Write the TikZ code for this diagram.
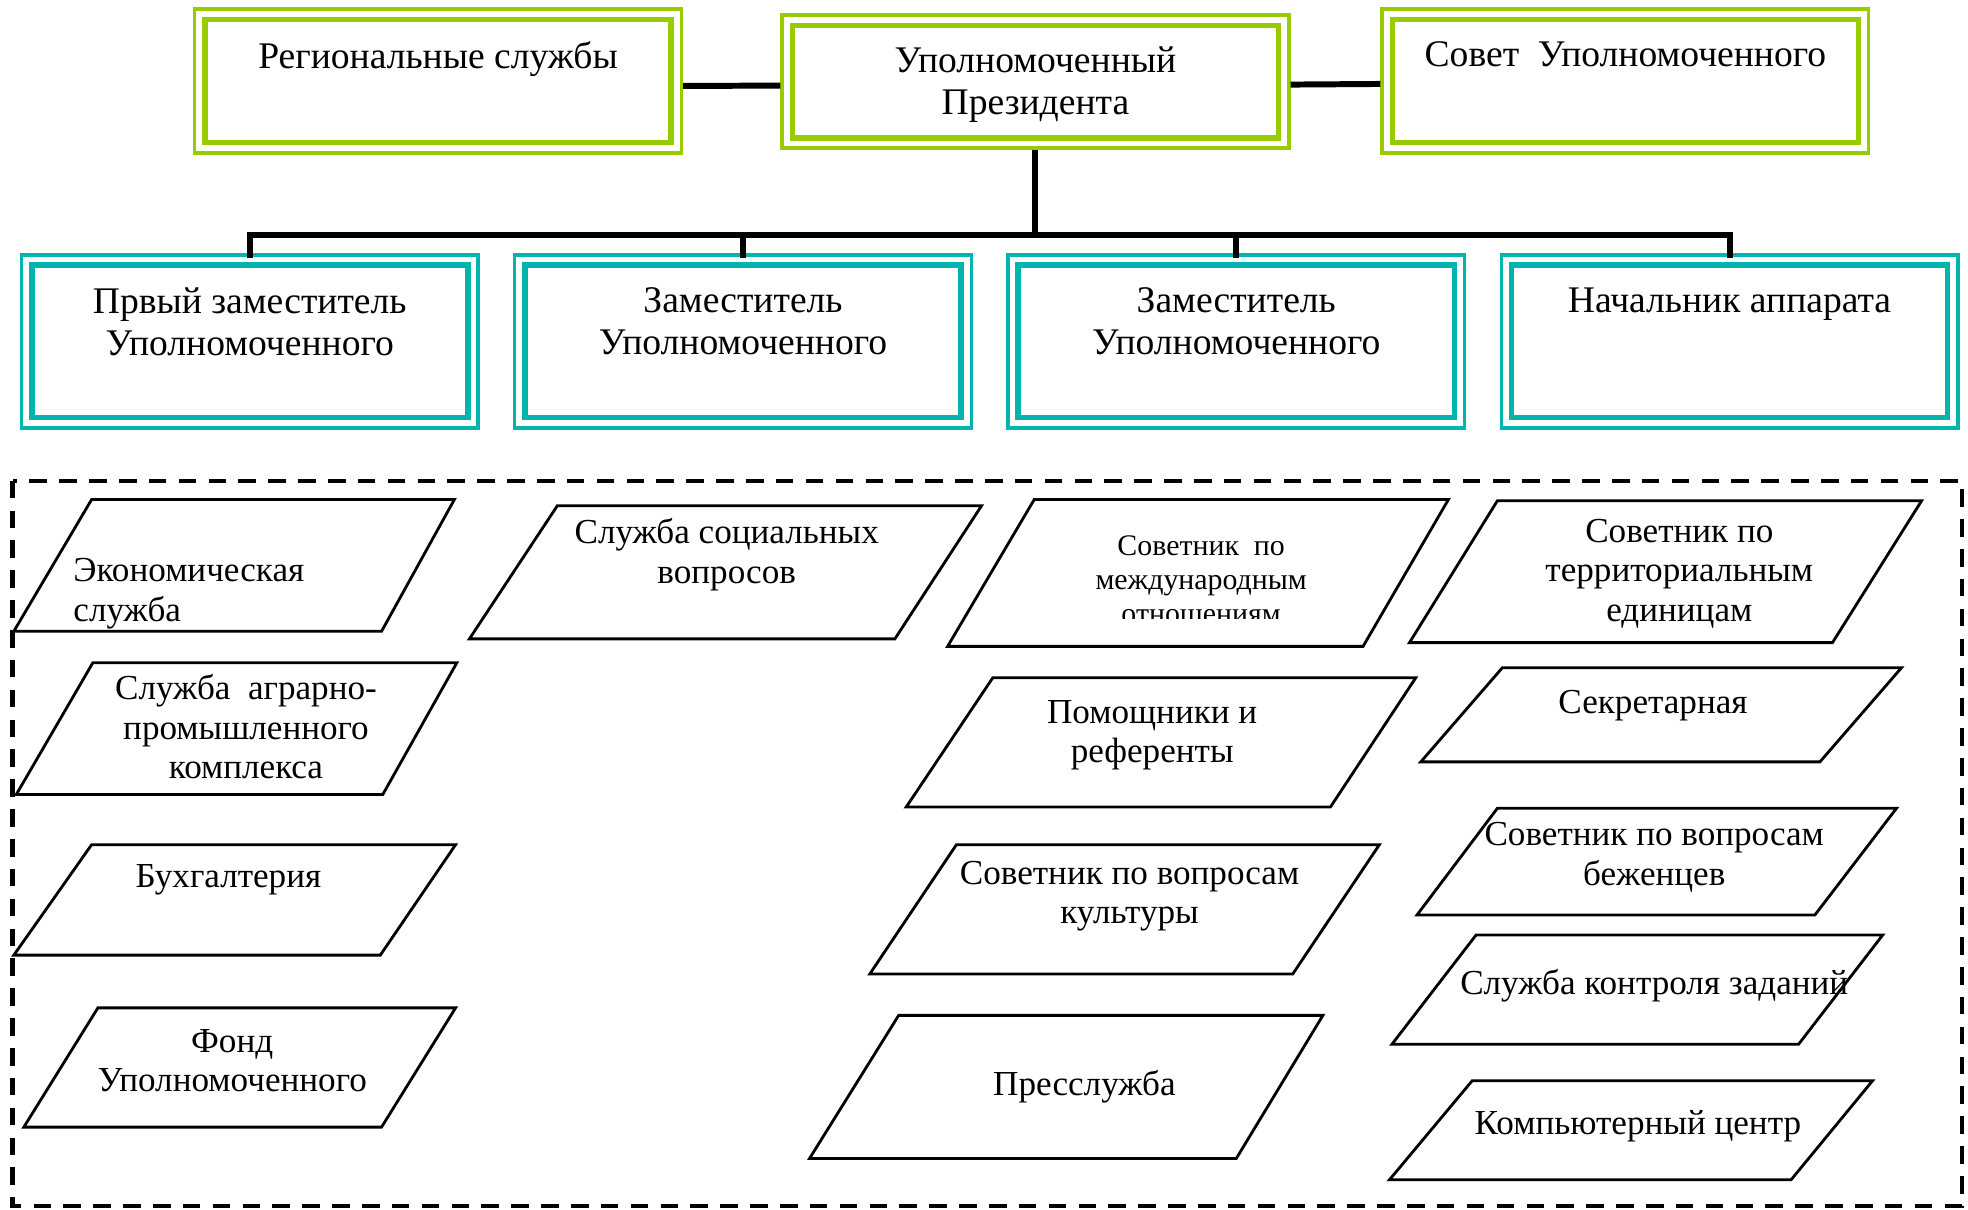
\documentclass[tikz,border=0pt]{standalone}
\usepackage{fontspec}
\setmainfont{Liberation Serif}
\usetikzlibrary{positioning}

\definecolor{boxgreen}{RGB}{153,204,0}
\definecolor{boxteal}{RGB}{0,181,173}

\begin{document}
\begin{tikzpicture}
    [x=0.012551cm, y=-0.012551cm,
     head/.style={inner sep=0pt, align=center, font=\fontsize{10.7pt}{11.8pt}\selectfont},
     txt/.style={inner sep=0pt, align=center, font=\fontsize{10pt}{11.2pt}\selectfont},
     small/.style={inner sep=0pt, align=center, font=\fontsize{8.5pt}{9.6pt}\selectfont},
     dbl/.style={draw=#1, line width=0.95pt, inner sep=0pt,
       append after command={\pgfextra{\draw[draw=#1, line width=1.6pt]
         ([shift={(0.12cm,0.12cm)}]\tikzlastnode.south west) rectangle
         ([shift={(-0.12cm,-0.12cm)}]\tikzlastnode.north east);}}},
     gbox/.style={dbl=boxgreen, minimum width=4.87cm, minimum height=1.44cm},
     tbox/.style={dbl=boxteal, minimum width=4.57cm, minimum height=1.73cm},
     link/.style={draw, line width=1.7pt},
     para/.style={draw, line width=0.8pt},
     dashbox/.style={draw, line width=1.2pt, dash pattern=on 5pt off 3.5pt}]
    \useasboundingbox (0,0) rectangle (1568,964);
    % top row
    \node[gbox] (reg) at (349,64.5) {};
    \node[gbox, minimum width=5.07cm, minimum height=1.33cm] (pres) at (825,65) {};
    \node[gbox] (sovet) at (1295,64.5) {};
    \node[head, below=0.34cm of reg.north] (reg-t) {Региональные службы};
    \node[head, yshift=-0.03cm] (pres-t) at (pres) {Уполномоченный\\Президента};
    \node[head, below=0.34cm of sovet.north] (sovet-t) {Совет\ \ Уполномоченного};
    \draw[link] ([yshift=-0.05cm]reg.east) -- ([yshift=-0.04cm]pres.west);
    \draw[link] ([yshift=-0.03cm]pres.east) -- ([yshift=-0.03cm]sovet.west);
    % deputies
    \node[tbox] (zam1) at (199,272) {};
    \node[tbox] (zam2) at (592,272) {};
    \node[tbox] (zam3) at (985,272) {};
    \node[tbox] (nach) at (1378,272) {};
    \node[head, below=0.34cm of zam1.north] (zam1-t) {Првый заместитель\\Уполномоченного};
    \node[head, below=0.34cm of zam2.north] (zam2-t) {Заместитель\\Уполномоченного};
    \node[head, below=0.34cm of zam3.north] (zam3-t) {Заместитель\\Уполномоченного};
    \node[head, below=0.34cm of nach.north] (nach-t) {Начальник аппарата};
    \coordinate (bus) at (825,187);
    \draw[link] (pres.south) -- (bus);
    \draw[link] ([yshift=-0.05cm]zam1.north) -- (zam1.north |- bus) -- (nach.north |- bus) -- ([yshift=-0.05cm]nach.north);
    \draw[link] (zam2.north |- bus) -- ([yshift=-0.05cm]zam2.north);
    \draw[link] (zam3.north |- bus) -- ([yshift=-0.05cm]zam3.north);
    % services
    \draw[para] (73,398) -- (362,398) -- (304,503) -- (11,503) -- cycle;
    \node[txt, anchor=west, align=left] (econ) at (58,473) {Экономическая\\служба};
    \draw[para] (74,528) -- (364,528) -- (305,633) -- (13,633) -- cycle;
    \node[txt] (agro) at (196,579) {Служба\ \ аграрно-\\промышленного\\комплекса};
    \draw[para] (73,673) -- (363,673) -- (303,761) -- (11,761) -- cycle;
    \node[txt] (buh) at (182,701) {Бухгалтерия};
    \draw[para] (78,803) -- (363,803) -- (304,898) -- (19,898) -- cycle;
    \node[txt] (fond) at (185,845) {Фонд\\Уполномоченного};
    \draw[para] (444,403) -- (782,403) -- (713,509) -- (374,509) -- cycle;
    \node[txt] (social) at (579,442) {Служба социальных\\вопросов};
    \draw[para] (824,398) -- (1154,398) -- (1086,515) -- (755,515) -- cycle;
    \begin{scope}
      \clip (740,390) rectangle (1170,493);
      \node[small] (intl) at (957,462) {Советник\ \ по\\международным\\отношениям};
    \end{scope}
    \draw[para] (791,540) -- (1128,540) -- (1060,643) -- (722,643) -- cycle;
    \node[txt] (pomosh) at (918,586) {Помощники и\\референты};
    \draw[para] (762,673) -- (1099,673) -- (1030,776) -- (693,776) -- cycle;
    \node[txt] (kult) at (900,714) {Советник по вопросам\\культуры};
    \draw[para] (716,809) -- (1054,809) -- (985,923) -- (645,923) -- cycle;
    \node[txt] (press) at (864,866) {Пресслужба};
    \draw[para] (1193,399) -- (1531,399) -- (1460,512) -- (1123,512) -- cycle;
    \node[txt] (terr) at (1338,457) {Советник по\\территориальным\\единицам};
    \draw[para] (1197,532) -- (1515,532) -- (1450,607) -- (1132,607) -- cycle;
    \node[txt] (sekr) at (1317,562) {Секретарная};
    \draw[para] (1193,644) -- (1511,644) -- (1446,729) -- (1129,729) -- cycle;
    \node[txt] (bezh) at (1318,683) {Советник по вопросам\\беженцев};
    \draw[para] (1176,745) -- (1500,745) -- (1433,832) -- (1109,832) -- cycle;
    \node[txt] (kontrol) at (1318,785) {Служба контроля заданий};
    \draw[para] (1173,861) -- (1492,861) -- (1427,940) -- (1107,940) -- cycle;
    \node[txt] (komp) at (1305,897) {Компьютерный центр};
    \draw[dashbox] (10,383) rectangle (1563,961);
\end{tikzpicture}
\end{document}
